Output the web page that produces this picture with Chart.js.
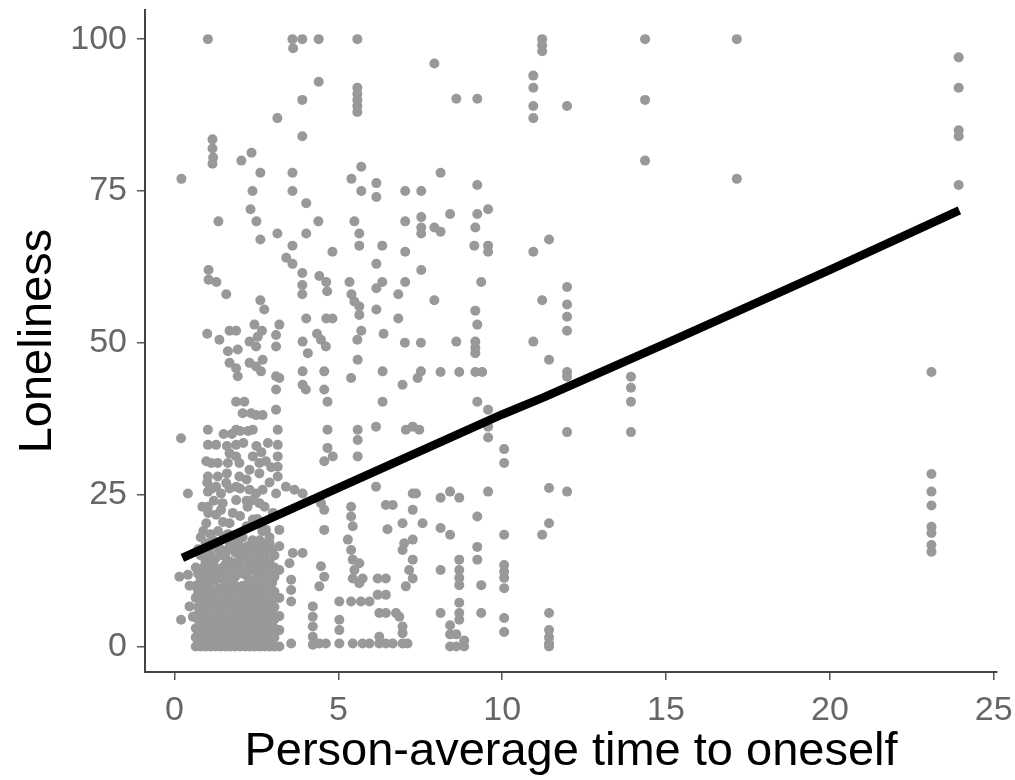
<!DOCTYPE html>
<html><head><meta charset="utf-8">
<script src="https://cdn.jsdelivr.net/npm/chart.js@4.4.1/dist/chart.umd.min.js"></script>
<style>html,body{margin:0;padding:0;background:#fff;} #wrap{width:1015px;height:780px;position:relative;}</style>
</head><body><div id="wrap"><canvas id="c"></canvas></div>
<script>
const xTicks = [0, 5, 10, 15, 20, 25];
const yTicks = [0, 25, 50, 75, 100];

// Fitted line
const fitX = [0.24, 5, 10, 11.3, 15, 20, 23.95];
const fitY = [14.6, 26.1, 38.2, 41.1, 49.9, 62, 71.8];

// Columns of observations at x >= 7.9
const rightColX = [7.93, 8.12, 8.41, 8.6, 8.69, 8.84, 9.15, 9.18, 9.24, 9.36, 9.39, 9.57, 10.06, 10.95, 11.22, 11.43, 11.98, 13.93, 14.36, 17.16, 23.1, 23.93];
const rightColY = [
  [96, 69, 57],
  [78, 68.3, 45.2, 24.5, 19.5, 12.6, 5.5],
  [71.2, 25.5, 18.4, 3.5, 2, 0],
  [90.2, 50.2, 2, 0],
  [45.2, 24.5, 14.3, 12.6, 11.3, 10.1, 7.2, 5.5, 4.4],
  [1, 0],
  [66],
  [69, 55.3, 50.2, 49.2, 48.3, 45.2],
  [90.2, 76, 71.2, 53, 40.3, 21.4, 16.4, 14.3],
  [60, 10.1, 5.5],
  [45.2],
  [72, 66, 65, 39, 36.2, 34.4, 25.5],
  [32.5, 30.2, 18.4, 13.4, 12.3, 11.3, 9.6, 4.7, 2.4],
  [94, 92, 89, 87, 65, 50.2],
  [100, 99, 98, 57, 18.4],
  [67, 47.2, 26.1, 20.3, 5.5, 2.7, 1.5, 0.5, 0],
  [89, 59.2, 56.3, 54.3, 52, 45.2, 44.4, 35.3, 25.5],
  [44.4, 42.6, 40.3, 35.3],
  [100, 90, 80],
  [100, 77],
  [45.2, 28.4, 25.5, 23.2, 19.7, 18.7, 16.7, 15.6],
  [97, 92, 85, 84, 76]
];

// Scattered observations, upper-left part (y above ~17)
const upperX = [1.02,3.6,3.62,3.9,4.4,5.58,4.4,3.9,5.58,5.58,5.58,5.58,5.58,3.14,3.9,1.16,1.16,1.18,1.16,2.35,2.04,
  0.21,2.62,3.6,5.7,5.4,2.38,3.6,4.02,5.7,6.16,6.16,7.04,7.53,
  1.34,2.32,2.5,3.14,4.02,4.39,5.49,2.62,5.64,5.64,6.34,7.04,7.53,7.53,7.53,
  7.04,4.82,3.6,3.41,3.6,6.16,
  1.04,1.04,1.28,1.58,3.9,3.9,3.9,4.42,4.63,4.66,5.34,5.4,5.49,5.64,5.64,6.16,6.34,6.83,7.04,7.53,2.62,2.74,6.16,6.83,4.02,4.63,4.82,
  2.44,3.2,1.0,1.37,1.68,1.88,1.63,1.93,2.29,2.49,2.54,2.67,3.1,3.1,3.91,4.07,4.35,4.47,4.62,5.7,5.58,5.59,6.38,7.03,7.52,
  1.68,1.88,1.93,2.29,2.49,2.69,2.64,3.1,3.2,3.1,3.91,3.91,4.01,4.57,4.57,5.39,6.35,6.96,7.52,7.42,
  1.88,2.13,2.08,2.34,2.49,2.69,3.1,4.67,6.35,
  0.2,1.02,1.02,1.27,1.88,1.88,2.39,1.68,1.88,1.63,1.98,1.32,1.12,0.97,2.39,2.59,2.79,2.29,2.59,3.15,3.15,3.15,3.15,3.15,4.67,4.67,4.83,4.57,5.59,5.59,5.59,6.15,7.06,7.27,7.47,1.32,1.58,1.88,1.98,
  0.41,1.27,1.42,1.68,1.88,1.47,2.29,2.49,2.69,2.39,2.59,3.1,3.4,3.66,3.91,4.47,4.57,5.39,5.39,5.44,6.15,6.45,6.66,7.27,7.37,7.27,0.97,1.27,1.42,1.68,2.0,2.2,2.39,2.59,2.79,3.2,4.57,6.5,6.96,7.57,
  0.8,1.1,1.5,1.8,2.6,2.9,1.0,2.2,2.9,2.5,2.1,1.5,
  1.02,1.02,1.02,1.15,1.6,1.75,2.0,2.25,2.65,2.85,2.95,2.0,2.2,1.2,2.75,3.0,0.85,1.6];
const upperY = [100,100,98.5,100,100,100,93,90,92,91,90,89,88,87,84,83.5,82,80.5,79.5,81.3,80,
  77,78,78,79,77,75,75,73,75,76.3,74,75,75,
  70,72,70,68,68,70,70,67,68,66,66,70,70.7,69,68,
  65,65,66,64,63,63,
  62,60.4,60,58,61.5,59.5,58,61,60,58.5,60,58,56.8,56,54.6,59,60,58,60,62,57,55.5,55.5,54,54,54,54,
  53,53,51.5,50.5,52,52,48.6,48.9,50.2,49.4,51,52,51.3,49.4,50.2,48.3,51.5,50.5,49.4,52,50.5,47.2,51.5,50,50,
  46.7,45.8,44.5,46.7,46.1,47.2,45.3,44.5,44.2,42.3,45.3,43.1,42.3,45.3,42.3,44.2,45.3,43.1,45.3,44.2,
  40.3,40.3,38.4,38.4,38.1,38.1,39,40.3,40.3,
  34.3,35.7,33.2,33.2,35.7,33.2,35.7,31.8,31.3,30.2,30.2,30.2,30.2,30.5,31.3,30.2,30.5,29.1,28.5,35.7,33.2,31.3,29.6,28,35.7,32.7,31.3,30.5,35.7,34,31.3,36.2,35.7,36.2,35.7,28,26.9,26.3,28,
  25.2,26.3,25.2,26,24.1,23.6,25.8,25.2,25.8,24.1,23.6,25.2,26.3,25.8,25.2,23.6,22.5,23,21.4,19.8,26.3,23.3,23.3,25.2,25.2,22.5,20.3,21.7,22.5,20.3,21.5,19.8,20.9,20.3,19.2,19.2,19.2,19.3,20.3,20.3,
  18,18.5,18,17.5,17.5,18,27,27.5,27,33,33.5,35,
  28,25.5,23,26,33,35,35.5,35.5,32,33.5,29.5,26,24,24,23,22,23,28.5];

// Scattered observations, lower part outside the dense block
const lowerX = [0.15,0.41,0.2,0.46,0.56,0.46,
  3.2,3.61,3.91,3.2,3.51,3.56,3.56,3.56,3.2,3.56,3.2,3.2,3.2,
  4.47,4.42,4.57,4.22,4.22,4.22,4.22,4.22,4.42,4.62,
  5.03,5.03,5.03,5.03,
  5.29,5.39,5.44,5.64,5.49,5.44,5.64,5.74,5.39,5.69,5.95,5.44,5.74,5.95,
  6.2,6.45,6.2,6.45,6.25,6.45,6.76,6.86,6.96,6.96,6.25,6.25,6.45,6.66,6.96,7.11,
  7.01,6.96,7.27,7.27,7.16,7.27,7.06];
const lowerY = [11.5,11.8,4.4,6.6,4.9,10,
  16.5,15.4,15.4,12.6,13.7,11,9.3,7.4,2.7,0.5,0,5,8,
  13.2,9.9,11.5,6.6,4.9,3.3,1.6,0.3,0.5,0.5,
  7.4,4.4,2.7,0.5,
  17.6,15.9,14.3,13.7,12.6,11.2,10.4,11.2,7.4,7.4,7.4,0.5,0.5,0.5,
  11.2,11.2,8.5,8.5,5.5,5.5,5.5,4.9,3.3,2.2,1.6,0.5,0.5,0.5,0.5,0.5,
  17,15.9,17.6,14.3,12.6,11.2,9.9];

// Dense block of low-loneliness observations (x 0.6-3.1)
const denseColX = [0.65,0.8,0.95,1.1,1.25,1.4,1.55,1.7,1.85,2.0,2.15,2.3,2.45,2.6,2.75,2.9,3.05];
const denseColY = [
  [0,1.5,3,5,8,10,13],
  [0,2,4,6,7.5,9,11,15],
  [0,1,3,5,6.5,8,10,12,14,17],
  [0,2,3.5,5,7,9,10.5,12,15,16.5],
  [0,1.5,3,4.5,6,8,11,13,14.5],
  [0,1,2.5,4,5.5,7,9.5,12,16],
  [0,2,3.5,5,6.5,8,10,11.5,13.5,15],
  [0,1,3,4.5,6,9,12.5,14,17],
  [0,1.5,3,5,7,8.5,10,11.5,15.5],
  [0,2,4,5.5,7,9,13,14.5,16.5],
  [0,1,3,4.5,6,8,10,15],
  [0,2,3.5,5.5,7,9.5,11,12.5,14,16],
  [0,1,2.5,4,6,8,10.5,13,17],
  [0,1.5,3,5,6.5,8.5,10,12,14.5,16],
  [0,1,2.5,4.5,7,9,11,13.5,15.5],
  [0,2,3.5,5,6,8,10,12,14,17],
  [0,1.5,3,4.5,6.5,9,11.5,13,15]
];
const denseCol2X = [0.72,0.88,1.03,1.18,1.33,1.48,1.63,1.78,1.93,2.08,2.23,2.38,2.53,2.68,2.83,2.98];
const denseCol2Y = [
  [0.5,2.5,4.5,6.5,9,12,16],
  [1,3,5.5,8.5,10.5,13,19],
  [0.5,2,4,7,9,11,13,15.5,22],
  [1,2.5,4.5,6,8,11.5,14,17.5],
  [0.5,2.5,5,7,9.5,12,16,19],
  [1.5,3,4.5,6,8.5,11,13,15,20.5],
  [0.5,2.5,4,5.5,7.5,11,13,16,18.5],
  [1,2,4,6.5,8,10.5,13.5,16.5,22],
  [0.5,2.5,4.5,6,9.5,12,14,17],
  [1,3,5,6.5,8,10,12,15.5,18],
  [0.5,2,4,5.5,7.5,9,11.5,13.5,16.5,23],
  [1,3,4.5,6.5,8.5,10,13,15,17.5],
  [0.5,2,3.5,5.5,7.5,9.5,12,14,16,21],
  [1,3,4,6,8,11,13,17,19],
  [0.5,2,3.5,5.5,8,10,12.5,14.5,16.5],
  [1,2.5,4,6,7.5,10.5,12,16]
];

const points = [];
rightColX.forEach((x, i) => rightColY[i].forEach(y => points.push({x, y})));
upperX.forEach((x, i) => points.push({x, y: upperY[i]}));
lowerX.forEach((x, i) => points.push({x, y: lowerY[i]}));
denseColX.forEach((x, i) => denseColY[i].forEach(y => points.push({x, y})));
denseCol2X.forEach((x, i) => denseCol2Y[i].forEach(y => points.push({x, y})));
const fitPoints = fitX.map((x, i) => ({x, y: fitY[i]}));

const FONT = "'Liberation Sans', Arial, sans-serif";

new Chart(document.getElementById('c'), {
  type: 'scatter',
  data: {
    datasets: [
      {type: 'line', data: fitPoints, borderColor: '#000', borderWidth: 8.5, pointRadius: 0, tension: 0, fill: false, order: 0, borderCapStyle: 'butt', borderJoinStyle: 'round'},
      {data: points, backgroundColor: '#999999', borderWidth: 0, pointRadius: 5, pointHoverRadius: 5, order: 1}
    ]
  },
  options: {
    responsive: true, maintainAspectRatio: false, animation: false, events: [],
    layout: {padding: {top: 10, right: 18, left: 0, bottom: 0}},
    plugins: {legend: {display: false}, tooltip: {enabled: false}},
    scales: {
      x: {
        type: 'linear', min: -0.9, max: 25.1,
        afterBuildTicks: s => { s.ticks = xTicks.map(v => ({value: v})); },
        afterFit: s => { s.height = 108; s.paddingLeft = 0; s.paddingRight = 0; },
        ticks: {font: {family: FONT, size: 34}, color: '#666', padding: 10, maxRotation: 0, autoSkip: false},
        grid: {display: true, drawOnChartArea: false, drawTicks: true, tickLength: 8, color: '#555', lineWidth: 1.5},
        border: {display: true, color: '#444', width: 2},
        title: {display: true, text: 'Person-average time to oneself', font: {family: FONT, size: 47}, color: '#000', padding: {top: 0, bottom: 0}}
      },
      y: {
        type: 'linear', min: -4.2, max: 104.8,
        afterBuildTicks: s => { s.ticks = yTicks.map(v => ({value: v})); },
        afterFit: s => { s.width = 145; s.paddingTop = 0; s.paddingBottom = 0; },
        ticks: {font: {family: FONT, size: 34}, color: '#666', padding: 10, autoSkip: false},
        grid: {display: true, drawOnChartArea: false, drawTicks: true, tickLength: 8, color: '#555', lineWidth: 1.5},
        border: {display: true, color: '#444', width: 2},
        title: {display: true, text: 'Loneliness', font: {family: FONT, size: 47}, color: '#000', padding: {top: 10, bottom: 0}}
      }
    }
  }
});
</script>
</body></html>
